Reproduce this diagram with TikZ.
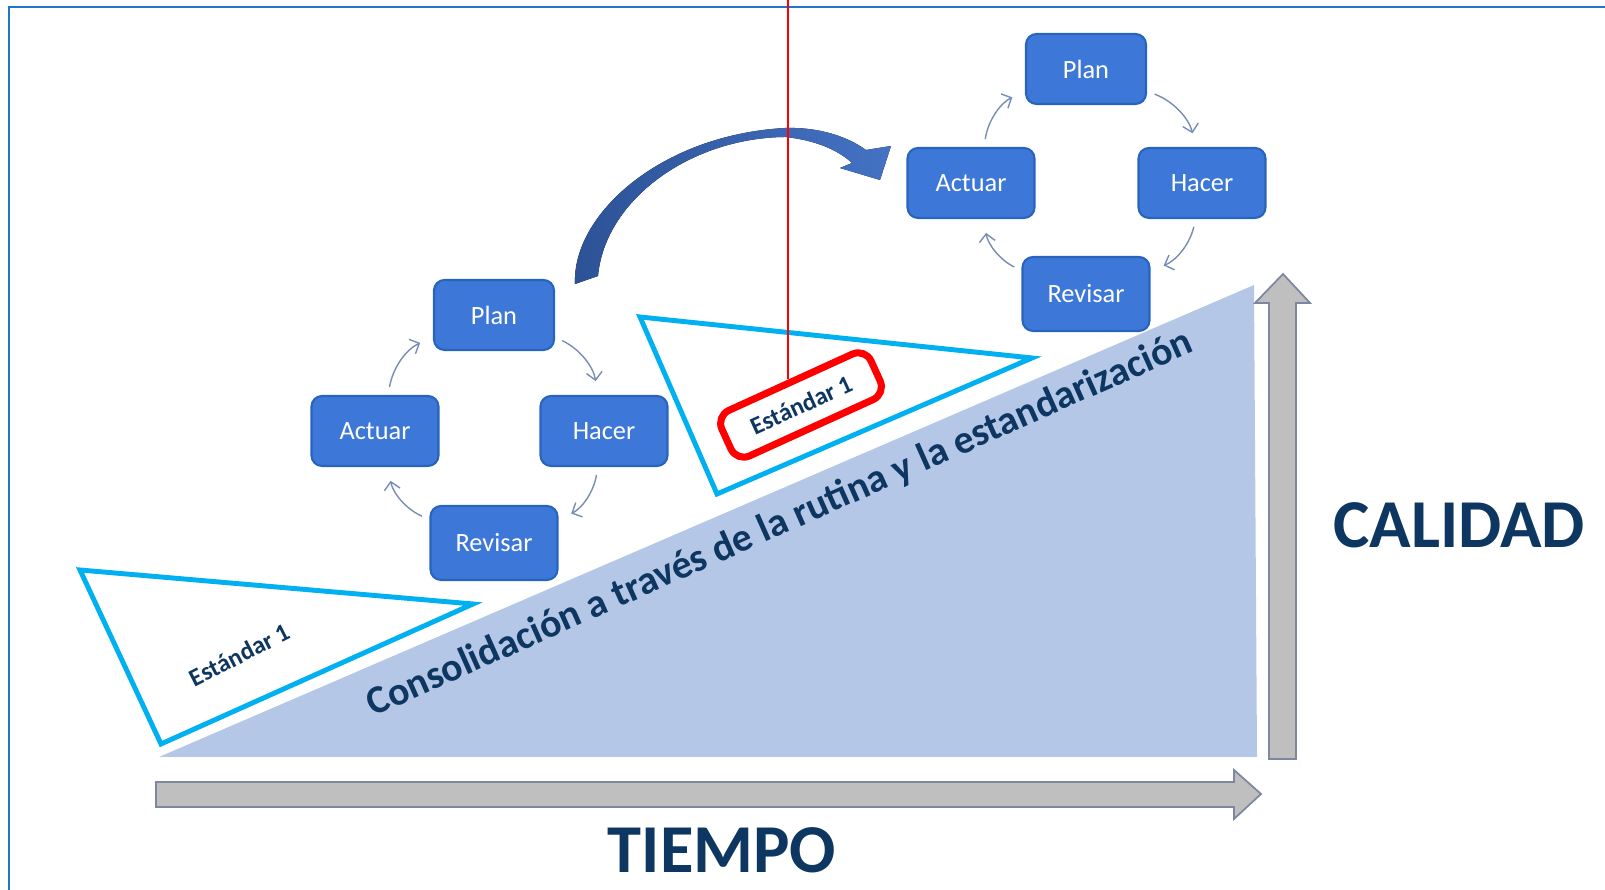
\documentclass[tikz,border=0pt]{standalone}
\usepackage{fontspec}
\setmainfont{Carlito}
\usetikzlibrary{arrows.meta}

\definecolor{framecol}{RGB}{31,119,204}
\definecolor{bigfill}{RGB}{180,199,231}
\definecolor{cyanline}{RGB}{0,176,240}
\definecolor{textdark}{RGB}{13,54,97}
\definecolor{boxfill}{RGB}{61,120,216}
\definecolor{boxline}{RGB}{40,100,190}
\definecolor{cycgray}{RGB}{120,140,180}
\definecolor{axisfill}{RGB}{191,191,191}
\definecolor{axisline}{RGB}{125,135,160}
\definecolor{arcdark}{RGB}{44,82,150}
\definecolor{arclight}{RGB}{68,114,196}

\begin{document}
\begin{tikzpicture}[
    fase/.style={rectangle, rounded corners=3pt, draw=boxline, fill=boxfill, line width=0.6pt, minimum width=1.27cm, minimum height=0.70cm, text=white, font=\fontsize{7.5}{9}\selectfont},
    flecha/.style={->, >={Straight Barb[length=2.2pt, width=4.5pt]}, draw=cycgray, line width=0.4pt, bend left=28, shorten <=0.08cm, shorten >=0.14cm},
    tri/.style={draw=cyanline, fill=white, line width=1.4pt, line join=miter},
    eje/.style={draw=axisline, fill=axisfill, line width=0.5pt},
    titulo/.style={text=textdark, font=\fontsize{19.5}{22}\selectfont\bfseries},
    estandar/.style={text=textdark, font=\fontsize{7.1}{9}\selectfont\bfseries}
]
    \useasboundingbox (0,0) rectangle (16.05,8.90);

    % Marco
    \draw[framecol, line width=0.6pt] (0.09,0) -- (0.09,8.83) -- (16.05,8.83);

    % Rampa
    \fill[bigfill] (1.59,1.33) -- (12.54,6.05) -- (12.57,1.33) -- cycle;
    \node[rotate=24, text=textdark, font=\fontsize{11.3}{13}\selectfont\bfseries] (lema) at (7.80,3.66) {Consolidación a través de la rutina y la estandarización};

    % Ejes
    \draw[eje] (1.56,0.83) -- (12.34,0.83) -- (12.34,0.71) -- (12.61,0.96) -- (12.34,1.20) -- (12.34,1.08) -- (1.56,1.08) -- cycle;
    \draw[eje] (12.69,1.31) -- (12.96,1.31) -- (12.96,5.87) -- (13.10,5.87) -- (12.83,6.16) -- (12.55,5.87) -- (12.69,5.87) -- cycle;
    \node[titulo] (tiempo) at (7.22,0.40) {TIEMPO};
    \node[titulo] (calidad) at (14.59,3.65) {CALIDAD};

    % Estandares
    \draw[tri] (0.80,3.20) -- (4.73,2.86) -- (1.61,1.46) -- cycle;
    \draw[tri] (6.40,5.73) -- (10.32,5.32) -- (7.17,3.96) -- cycle;
    \node[estandar, rotate=27] (std1) at (2.39,2.35) {Estándar 1};
    \node[estandar, rotate=24.5, draw=red, line width=2pt, fill=white, rounded corners=4pt, minimum width=1.64cm, minimum height=0.50cm] (std2) at (8.01,4.85) {Estándar 1};

    % Salto entre ciclos
    \fill[left color=arcdark, right color=arclight]
        (5.75,6.06) .. controls (5.72,6.75) and (6.60,7.55) .. (7.85,7.62)
        .. controls (8.20,7.63) and (8.48,7.53) .. (8.66,7.40)
        -- (8.91,7.44) -- (8.80,7.10) -- (8.40,7.22) -- (8.52,7.27)
        .. controls (8.38,7.40) and (8.15,7.50) .. (7.85,7.53)
        .. controls (6.90,7.52) and (6.05,6.90) .. (5.98,6.14) -- cycle;

    \coordinate (alfiler) at (7.88,8.90);
    \draw[red, line width=0.4pt] (alfiler) -- (alfiler |- std2.north);

    % Ciclo 1
    \node[fase, minimum width=1.20cm] (lplan) at (4.94,5.75) {Plan};
    \node[fase] (lactuar) at (3.75,4.59) {Actuar};
    \node[fase] (lhacer) at (6.04,4.59) {Hacer};
    \node[fase, minimum height=0.74cm] (lrevisar) at (4.94,3.47) {Revisar};

    \draw[flecha] (lplan.-20) to (lhacer.100);
    \draw[flecha] (lhacer.-100) to (lrevisar.20);
    \draw[flecha] (lrevisar.160) to (lactuar.-70);
    \draw[flecha] (lactuar.70) to (lplan.200);

    % Ciclo 2
    \node[fase, minimum width=1.20cm] (rplan) at (10.86,8.21) {Plan};
    \node[fase] (ractuar) at (9.71,7.07) {Actuar};
    \node[fase] (rhacer) at (12.02,7.07) {Hacer};
    \node[fase, minimum height=0.74cm] (rrevisar) at (10.86,5.96) {Revisar};

    \draw[flecha] (rplan.-20) to (rhacer.100);
    \draw[flecha] (rhacer.-100) to (rrevisar.20);
    \draw[flecha] (rrevisar.160) to (ractuar.-70);
    \draw[flecha] (ractuar.70) to (rplan.200);

\end{tikzpicture}
\end{document}
